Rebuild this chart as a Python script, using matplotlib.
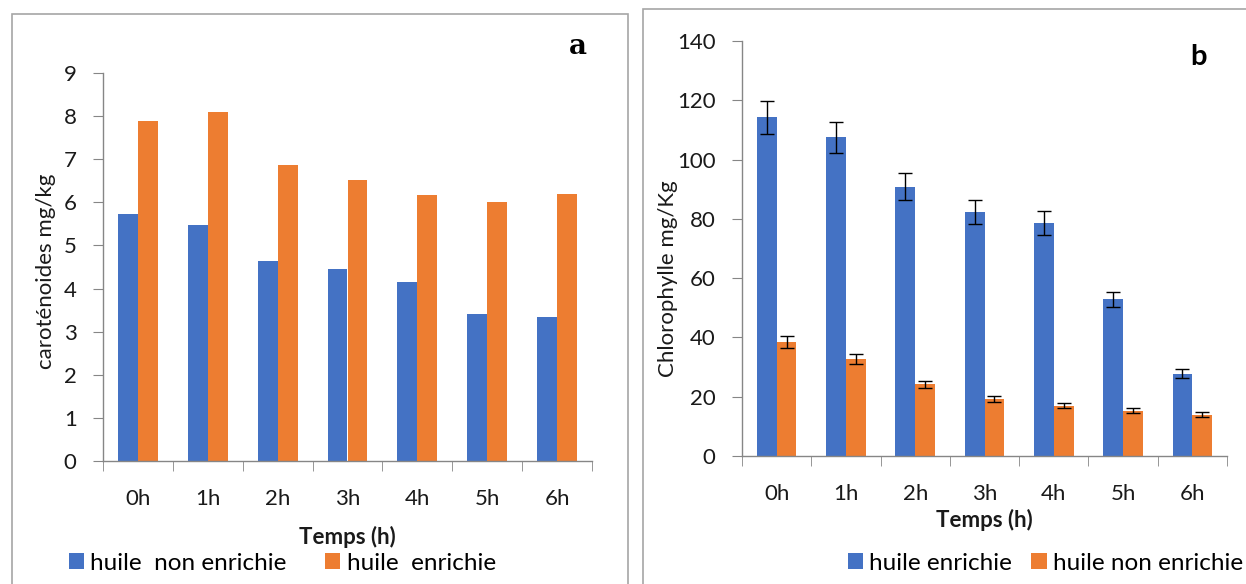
import matplotlib
matplotlib.use("Agg")
import matplotlib.pyplot as plt
import matplotlib.patches as patches
import numpy as np

plt.rcParams['font.family'] = ['Lato', 'DejaVu Sans']

hours = ["0h", "1h", "2h", "3h", "4h", "5h", "6h"]

# panel a : carotenoids (mg/kg)
caro_non_enrichie = [5.74, 5.47, 4.63, 4.45, 4.15, 3.40, 3.35]
caro_enrichie = [7.88, 8.10, 6.87, 6.52, 6.17, 6.00, 6.20]

# panel b : chlorophyll (mg/Kg) with error bars
chlo_enrichie = [114.2, 107.5, 90.9, 82.3, 78.6, 52.8, 27.8]
chlo_enrichie_err = [5.7, 5.3, 4.6, 4.2, 4.0, 2.6, 1.45]
chlo_non_enrichie = [38.6, 32.7, 24.2, 19.2, 17.0, 15.3, 14.0]
chlo_non_enrichie_err = [2.0, 1.7, 1.25, 1.0, 0.9, 0.8, 0.7]

blue = '#4472C4'
orange = '#ED7D31'
grid_col = '#868686'
txt_col = '#1a1a1a'
fs = 16
leg_fs = 17.5

W, H = 1246, 584
fig = plt.figure(figsize=(W / 100, H / 100), dpi=100)

# panel frames
fig.patches.append(patches.Rectangle((12 / W, -0.1), (628 - 12) / W, 1.1 - 14 / H,
                                     transform=fig.transFigure, fill=False,
                                     edgecolor='#a6a6a6', linewidth=1.2))
fig.patches.append(patches.Rectangle((643 / W, -0.1), 0.6, 1.1 - 9 / H,
                                     transform=fig.transFigure, fill=False,
                                     edgecolor='#a6a6a6', linewidth=1.2))


def style_axes(ax, n):
  ax.set_xlim(-0.5, n - 0.5)
  for s in ['top', 'right']:
    ax.spines[s].set_visible(False)
  for s in ['left', 'bottom']:
    ax.spines[s].set_color(grid_col)
    ax.spines[s].set_linewidth(1.0)
  ax.set_xticks(np.arange(n))
  ax.set_xticklabels(hours)
  ax.set_xticks(np.arange(n + 1) - 0.5, minor=True)
  ax.tick_params(axis='x', which='major', length=0, pad=20, labelsize=fs, labelcolor=txt_col)
  ax.tick_params(axis='x', which='minor', length=7, color=grid_col, direction='out')
  ax.tick_params(axis='y', length=7, color=grid_col, pad=12, labelsize=fs, labelcolor=txt_col)


x = np.arange(len(hours))
bw = 0.285

# ---- panel a
ax1 = fig.add_axes([103 / W, 1 - 461 / H, 489 / W, 388 / H])
ax1.bar(x - bw / 2, caro_non_enrichie, bw, color=blue, label='huile  non enrichie')
ax1.bar(x + bw / 2, caro_enrichie, bw, color=orange, label='huile  enrichie')
ax1.set_ylim(0, 9)
ax1.set_yticks(range(0, 10))
style_axes(ax1, len(hours))
ax1.set_ylabel('caroténoides mg/kg', fontsize=fs, color=txt_col)
ax1.yaxis.set_label_coords(-47 / 489, 0.49)
ax1.set_xlabel('Temps (h)', fontsize=fs, fontweight='bold', color=txt_col, labelpad=12)
fig.text(578 / W, 1 - 47 / H, 'a', fontsize=20, fontweight='bold', family='DejaVu Serif',
         ha='center', va='center')
ax1.legend(loc='center left', bbox_to_anchor=(69 / W, 1 - 563 / H), bbox_transform=fig.transFigure,
           ncol=2, frameon=False, fontsize=leg_fs, handlelength=0.62, handleheight=0.62,
           handletextpad=0.25, columnspacing=1.6, borderaxespad=0, borderpad=0)

# ---- panel b
ax2 = fig.add_axes([742 / W, 1 - 456 / H, 485 / W, 415 / H])
ax2.bar(x - bw / 2, chlo_enrichie, bw, color=blue, label='huile enrichie',
        yerr=chlo_enrichie_err, capsize=5, error_kw=dict(ecolor='black', elinewidth=1, capthick=1))
ax2.bar(x + bw / 2, chlo_non_enrichie, bw, color=orange, label='huile non enrichie',
        yerr=chlo_non_enrichie_err, capsize=5, error_kw=dict(ecolor='black', elinewidth=1, capthick=1))
ax2.set_ylim(0, 140)
ax2.set_yticks(range(0, 141, 20))
style_axes(ax2, len(hours))
ax2.set_ylabel('Chlorophylle mg/Kg', fontsize=fs, color=txt_col)
ax2.yaxis.set_label_coords(-64 / 485, 0.427)
ax2.set_xlabel('Temps (h)', fontsize=fs, fontweight='bold', color=txt_col, labelpad=4)
fig.text(1198 / W, 1 - 57 / H, 'b', fontsize=21, fontweight='bold', ha='center', va='center')
ax2.legend(loc='center left', bbox_to_anchor=(848 / W, 1 - 563 / H), bbox_transform=fig.transFigure,
           ncol=2, frameon=False, fontsize=leg_fs, handlelength=0.62, handleheight=0.62,
           handletextpad=0.25, columnspacing=0.8, borderaxespad=0, borderpad=0)

fig.savefig('out.png', dpi=100)
